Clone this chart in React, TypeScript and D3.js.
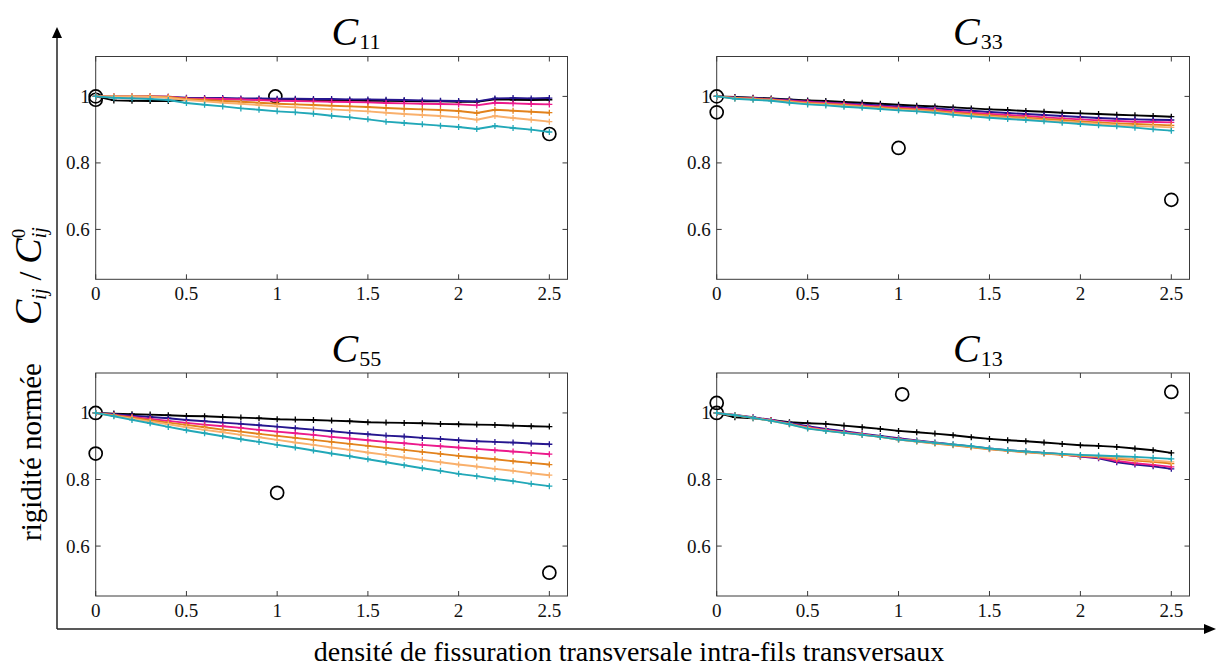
import React from 'react';
import * as d3 from 'd3';

const X_VALUES = [0, 0.1, 0.2, 0.3, 0.4, 0.5, 0.6, 0.7, 0.8, 0.9, 1.0, 1.1, 1.2, 1.3, 1.4, 1.5, 1.6, 1.7, 1.8, 1.9, 2.0, 2.1, 2.2, 2.3, 2.4, 2.5];
const X_TICKS = [0, 0.5, 1, 1.5, 2, 2.5];
const X_TICK_LABELS = ['0', '0.5', '1', '1.5', '2', '2.5'];
const Y_TICKS = [0.6, 0.8, 1];
const Y_TICK_LABELS = ['0.6', '0.8', '1'];
const PANEL_TITLES = ['11', '33', '55', '13'];
const X_LABEL = 'densité de fissuration transversale intra-fils transversaux';
const Y_LABEL = 'rigidité normée';

// C11
const C11_BLACK = [1.0, 0.988, 0.987, 0.986, 0.986, 0.990, 0.991, 0.991, 0.991, 0.991, 0.990, 0.990, 0.989, 0.988, 0.988, 0.987, 0.987, 0.986, 0.985, 0.985, 0.984, 0.984, 0.991, 0.990, 0.989, 0.990];
const C11_NAVY = [1.0, 1.0, 1.0, 1.0, 0.999, 0.996, 0.995, 0.995, 0.994, 0.994, 0.993, 0.993, 0.992, 0.992, 0.991, 0.991, 0.990, 0.989, 0.988, 0.987, 0.986, 0.985, 0.994, 0.995, 0.994, 0.995];
const C11_PINK = [1.0, 1.0, 1.0, 1.0, 0.999, 0.994, 0.993, 0.992, 0.991, 0.989, 0.987, 0.986, 0.985, 0.984, 0.983, 0.982, 0.980, 0.979, 0.978, 0.977, 0.976, 0.973, 0.981, 0.979, 0.977, 0.976];
const C11_ORANGE = [1.0, 1.0, 1.0, 1.0, 0.998, 0.992, 0.989, 0.986, 0.984, 0.981, 0.978, 0.976, 0.974, 0.972, 0.970, 0.968, 0.965, 0.963, 0.961, 0.959, 0.956, 0.950, 0.960, 0.957, 0.954, 0.951];
const C11_LIGHT = [1.0, 1.0, 1.0, 0.999, 0.996, 0.989, 0.985, 0.981, 0.978, 0.974, 0.970, 0.967, 0.964, 0.961, 0.958, 0.955, 0.951, 0.947, 0.944, 0.941, 0.937, 0.930, 0.941, 0.935, 0.930, 0.924];
const C11_TEAL = [1.0, 0.996, 0.994, 0.992, 0.989, 0.980, 0.975, 0.970, 0.964, 0.960, 0.955, 0.952, 0.948, 0.942, 0.937, 0.931, 0.924, 0.920, 0.916, 0.912, 0.908, 0.902, 0.911, 0.905, 0.900, 0.893];
const C11_CIRCLE_X = [0, 0, 0.99, 2.5];
const C11_CIRCLE_Y = [1.0, 0.99, 1.0, 0.887];

// C33
const C33_BLACK = [1.0, 0.998, 0.996, 0.994, 0.991, 0.988, 0.986, 0.983, 0.981, 0.978, 0.975, 0.972, 0.970, 0.967, 0.964, 0.961, 0.959, 0.956, 0.954, 0.951, 0.949, 0.947, 0.945, 0.943, 0.941, 0.939];
const C33_NAVY = [1.0, 0.997, 0.995, 0.992, 0.989, 0.985, 0.982, 0.979, 0.976, 0.973, 0.970, 0.967, 0.964, 0.960, 0.957, 0.953, 0.950, 0.947, 0.944, 0.941, 0.938, 0.935, 0.933, 0.931, 0.930, 0.929];
const C33_PINK = [1.0, 0.996, 0.994, 0.991, 0.987, 0.983, 0.980, 0.977, 0.973, 0.970, 0.966, 0.963, 0.960, 0.955, 0.951, 0.947, 0.944, 0.941, 0.937, 0.934, 0.931, 0.928, 0.926, 0.924, 0.923, 0.922];
const C33_ORANGE = [1.0, 0.995, 0.993, 0.990, 0.985, 0.980, 0.977, 0.974, 0.970, 0.967, 0.963, 0.960, 0.956, 0.951, 0.947, 0.943, 0.939, 0.936, 0.932, 0.929, 0.925, 0.922, 0.919, 0.917, 0.915, 0.913];
const C33_LIGHT = [1.0, 0.994, 0.991, 0.988, 0.983, 0.978, 0.975, 0.971, 0.968, 0.964, 0.960, 0.957, 0.953, 0.948, 0.943, 0.939, 0.935, 0.932, 0.928, 0.924, 0.921, 0.917, 0.914, 0.911, 0.909, 0.907];
const C33_TEAL = [1.0, 0.993, 0.990, 0.987, 0.981, 0.976, 0.973, 0.969, 0.966, 0.962, 0.958, 0.955, 0.951, 0.945, 0.940, 0.936, 0.932, 0.929, 0.925, 0.921, 0.917, 0.913, 0.910, 0.906, 0.901, 0.897];
const C33_CIRCLE_X = [0, 0, 1.0, 2.5];
const C33_CIRCLE_Y = [1.0, 0.952, 0.845, 0.689];

// C55
const C55_BLACK = [1.0, 0.998, 0.996, 0.995, 0.993, 0.991, 0.990, 0.988, 0.986, 0.984, 0.981, 0.980, 0.979, 0.977, 0.975, 0.972, 0.971, 0.970, 0.969, 0.967, 0.966, 0.965, 0.964, 0.962, 0.960, 0.959];
const C55_NAVY = [1.0, 0.996, 0.992, 0.988, 0.984, 0.979, 0.975, 0.971, 0.967, 0.963, 0.959, 0.954, 0.950, 0.945, 0.940, 0.936, 0.932, 0.929, 0.925, 0.922, 0.918, 0.915, 0.913, 0.911, 0.908, 0.906];
const C55_PINK = [1.0, 0.994, 0.988, 0.982, 0.976, 0.970, 0.965, 0.960, 0.955, 0.949, 0.944, 0.939, 0.934, 0.928, 0.923, 0.918, 0.913, 0.909, 0.904, 0.900, 0.896, 0.892, 0.888, 0.884, 0.880, 0.876];
const C55_ORANGE = [1.0, 0.993, 0.986, 0.978, 0.971, 0.964, 0.957, 0.950, 0.944, 0.937, 0.931, 0.925, 0.919, 0.913, 0.907, 0.901, 0.895, 0.889, 0.883, 0.877, 0.871, 0.866, 0.861, 0.855, 0.850, 0.845];
const C55_LIGHT = [1.0, 0.991, 0.983, 0.974, 0.966, 0.957, 0.949, 0.942, 0.934, 0.927, 0.919, 0.911, 0.904, 0.896, 0.889, 0.881, 0.874, 0.866, 0.859, 0.852, 0.845, 0.839, 0.832, 0.826, 0.819, 0.813];
const C55_TEAL = [1.0, 0.990, 0.979, 0.969, 0.958, 0.948, 0.939, 0.930, 0.921, 0.913, 0.904, 0.896, 0.887, 0.878, 0.870, 0.861, 0.852, 0.843, 0.834, 0.826, 0.817, 0.810, 0.802, 0.795, 0.787, 0.780];
const C55_CIRCLE_X = [0, 0, 1.0, 2.5];
const C55_CIRCLE_Y = [1.0, 0.878, 0.76, 0.52];

// C13
const C13_BLACK = [1.0, 0.987, 0.984, 0.979, 0.972, 0.969, 0.967, 0.962, 0.957, 0.952, 0.946, 0.942, 0.938, 0.933, 0.927, 0.922, 0.918, 0.915, 0.911, 0.907, 0.903, 0.901, 0.898, 0.893, 0.888, 0.880];
const C13_NAVY = [1.0, 0.994, 0.987, 0.979, 0.970, 0.960, 0.952, 0.945, 0.938, 0.931, 0.924, 0.917, 0.911, 0.905, 0.899, 0.893, 0.888, 0.884, 0.880, 0.876, 0.869, 0.864, 0.852, 0.845, 0.840, 0.832];
const C13_PINK = [1.0, 0.994, 0.986, 0.978, 0.968, 0.957, 0.949, 0.942, 0.936, 0.929, 0.922, 0.916, 0.910, 0.904, 0.898, 0.892, 0.887, 0.883, 0.879, 0.875, 0.870, 0.866, 0.856, 0.849, 0.844, 0.838];
const C13_ORANGE = [1.0, 0.993, 0.985, 0.977, 0.967, 0.955, 0.947, 0.941, 0.935, 0.928, 0.920, 0.914, 0.908, 0.903, 0.897, 0.891, 0.886, 0.882, 0.878, 0.874, 0.871, 0.868, 0.862, 0.857, 0.853, 0.848];
const C13_LIGHT = [1.0, 0.993, 0.985, 0.976, 0.966, 0.954, 0.947, 0.940, 0.934, 0.928, 0.920, 0.915, 0.909, 0.904, 0.898, 0.892, 0.887, 0.883, 0.879, 0.876, 0.873, 0.870, 0.866, 0.861, 0.857, 0.853];
const C13_TEAL = [1.0, 0.993, 0.985, 0.976, 0.966, 0.953, 0.946, 0.940, 0.934, 0.928, 0.920, 0.915, 0.910, 0.905, 0.900, 0.893, 0.888, 0.884, 0.880, 0.877, 0.874, 0.872, 0.870, 0.868, 0.865, 0.862];
const C13_CIRCLE_X = [0, 0, 1.02, 2.5];
const C13_CIRCLE_Y = [1.03, 1.0, 1.056, 1.063];

const SERIES_COLORS = ['#000000', '#26168f', '#ec1a8c', '#e2821c', '#f9b06c', '#22a8b8'];

const PANELS = [
  { title: PANEL_TITLES[0], series: [C11_BLACK, C11_NAVY, C11_PINK, C11_ORANGE, C11_LIGHT, C11_TEAL], cx: C11_CIRCLE_X, cy: C11_CIRCLE_Y, col: 0, row: 0 },
  { title: PANEL_TITLES[1], series: [C33_BLACK, C33_NAVY, C33_PINK, C33_ORANGE, C33_LIGHT, C33_TEAL], cx: C33_CIRCLE_X, cy: C33_CIRCLE_Y, col: 1, row: 0 },
  { title: PANEL_TITLES[2], series: [C55_BLACK, C55_NAVY, C55_PINK, C55_ORANGE, C55_LIGHT, C55_TEAL], cx: C55_CIRCLE_X, cy: C55_CIRCLE_Y, col: 0, row: 1 },
  { title: PANEL_TITLES[3], series: [C13_BLACK, C13_NAVY, C13_PINK, C13_ORANGE, C13_LIGHT, C13_TEAL], cx: C13_CIRCLE_X, cy: C13_CIRCLE_Y, col: 1, row: 1 },
];

const COL_RANGES: [number, number][] = [[95.7, 567.5], [716.7, 1189.5]];
const ROW_RANGES: [number, number][] = [[279.3, 56.5], [596, 373]];
const FONT = '"Liberation Serif", "Times New Roman", serif';

function Panel({ p }: { p: typeof PANELS[number] }) {
  const x = d3.scaleLinear().domain([0, 2.6]).range(COL_RANGES[p.col]);
  const y = d3.scaleLinear().domain([0.45, 1.12]).range(ROW_RANGES[p.row]);
  const [x0, x1] = x.range();
  const [y0, y1] = y.range();
  const line = d3.line<number>().x((_, i) => x(X_VALUES[i])).y((d) => y(d));
  const tl = 5;
  const titleX = (x0 + x1) / 2;
  const titleY = y1 - 11.5;
  return (
    <g>
      <rect x={x0} y={y1} width={x1 - x0} height={y0 - y1} fill="white" stroke="#3a3a3a" strokeWidth={1} />
      {X_TICKS.map((t, i) => (
        <g key={'xt' + i}>
          <line x1={x(t)} x2={x(t)} y1={y0} y2={y0 - tl} stroke="#3a3a3a" />
          <line x1={x(t)} x2={x(t)} y1={y1} y2={y1 + tl} stroke="#3a3a3a" />
          <text x={x(t)} y={y0 + 21} textAnchor="middle" fontFamily={FONT} fontSize={19} fill="#111">{X_TICK_LABELS[i]}</text>
        </g>
      ))}
      {Y_TICKS.map((t, i) => (
        <g key={'yt' + i}>
          <line x1={x0} x2={x0 + tl} y1={y(t)} y2={y(t)} stroke="#3a3a3a" />
          <line x1={x1} x2={x1 - tl} y1={y(t)} y2={y(t)} stroke="#3a3a3a" />
          <text x={x0 - 6} y={y(t) + 6.5} textAnchor="end" fontFamily={FONT} fontSize={19} fill="#111">{Y_TICK_LABELS[i]}</text>
        </g>
      ))}
      {p.cx.map((cxv, i) => (
        <circle key={'c' + i} cx={x(cxv)} cy={y(p.cy[i])} r={6.5} fill="none" stroke="#000" strokeWidth={1.7} />
      ))}
      {p.series.map((s, si) => (
        <g key={'s' + si}>
          <path d={line(s) || ''} fill="none" stroke={SERIES_COLORS[si]} strokeWidth={1.9} />
          {s.map((v, i) => (
            <path key={i} d={`M${x(X_VALUES[i]) - 3},${y(v)}h6M${x(X_VALUES[i])},${y(v) - 3}v6`} stroke={SERIES_COLORS[si]} strokeWidth={1.3} />
          ))}
        </g>
      ))}
      <text x={titleX} y={titleY} fontFamily={FONT} fill="#000">
        <tspan fontStyle="italic" fontSize={40}>C</tspan>
        <tspan fontSize={22} dy={4} dx={1}>{p.title}</tspan>
      </text>
    </g>
  );
}

export default function App() {
  return (
    <svg width={1217} height={667} style={{ position: 'absolute', left: 0, top: 0, background: 'white' }}>
      <rect x={0} y={0} width={1217} height={667} fill="white" />
      <line x1={57} y1={629} x2={57} y2={36} stroke="#222" strokeWidth={1.5} />
      <path d="M57,27 L52,38 L62,38 Z" fill="#000" />
      <line x1={57} y1={629} x2={1205} y2={629} stroke="#222" strokeWidth={1.5} />
      <path d="M1216,629 L1204,624 L1204,634 Z" fill="#000" />
      {PANELS.map((p, i) => (
        <Panel key={i} p={p} />
      ))}
      <text x={629} y={661} textAnchor="middle" fontFamily={FONT} fontSize={28} fill="#000">{X_LABEL}</text>
      <g transform="translate(41,0) rotate(-90)">
        <text x={-541} y={0} fontFamily={FONT} fontSize={29} fill="#000">
          <tspan>{Y_LABEL}</tspan>
          <tspan dx={38} fontStyle="italic" fontSize={38}>C</tspan>
          <tspan fontStyle="italic" fontSize={20} dy={5}>ij</tspan>
          <tspan fontSize={32} dy={-5}> / </tspan>
          <tspan fontStyle="italic" fontSize={38}>C</tspan>
          <tspan fontSize={19} dy={-16}>0</tspan>
          <tspan fontStyle="italic" fontSize={20} dx={-9.5} dy={21}>ij</tspan>
        </text>
      </g>
    </svg>
  );
}
